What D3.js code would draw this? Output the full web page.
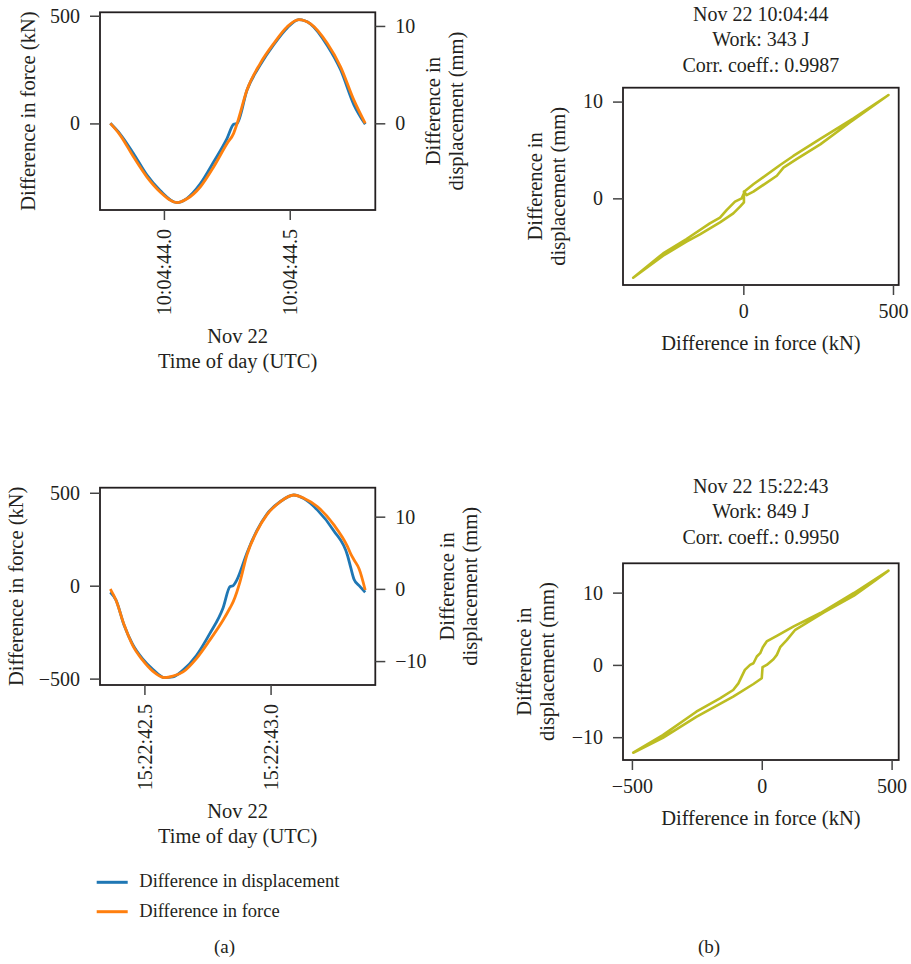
<!DOCTYPE html>
<html>
<head>
<meta charset="utf-8">
<script src="https://cdn.jsdelivr.net/npm/d3@7"></script>
<style>
  body { margin: 0; background: #fff; }
  svg { display: block; }
</style>
</head>
<body>
<div id="chart"></div>
<script>
// ---- data ----

// event 1, Nov 22 10:04, seconds past the minute
const ev1Seconds = [43.787, 43.826, 43.879, 43.932, 43.985, 44.052, 44.092, 44.145, 44.198, 44.251, 44.277,
  44.291, 44.330, 44.383, 44.437, 44.490, 44.536, 44.583, 44.649, 44.702, 44.755, 44.800];
const ev1Force = [0, -54, -155, -248, -318, -368, -350, -294, -201, -93, -46,
  0, 155, 279, 372, 449, 482, 462, 372, 263, 108, 0];
const ev1Disp = [0, -1.1, -3.1, -5.3, -6.9, -8.15, -7.7, -6.2, -3.95, -1.55, -0.1,
  0, 3.4, 6.0, 8.1, 9.8, 10.65, 10.2, 8.0, 5.5, 1.9, -0.1];

// event 2, Nov 22 15:22
const ev2Seconds = [42.365, 42.387, 42.420, 42.453, 42.493, 42.533, 42.580, 42.613, 42.653, 42.706, 42.759,
  42.812, 42.839, 42.852, 42.866, 42.879, 42.906, 42.945, 42.985, 43.039, 43.092, 43.132, 43.185,
  43.251, 43.305, 43.318, 43.331, 43.351, 43.375];
const ev2Force = [-18, -77, -212, -320, -401, -460, -495, -487, -464, -392, -293,
  -185, -120, -86, -35, 22, 165, 291, 381, 453, 488, 471, 426,
  327, 210, 170, 138, 90, -23];
const ev2Disp = [-0.46, -1.52, -5.08, -7.66, -9.70, -11.13, -12.3, -12.2, -11.26, -9.23, -6.2,
  -2.6, 0.3, 0.46, 1.2, 2.3, 4.94, 8.03, 10.34, 12.1, 13.0, 12.5, 10.94,
  8.03, 4.62, 2.9, 1.3, 0.45, -0.46];

// hysteresis loops (force vs displacement)
const loop1Force = [2, 2, -11, -33.5, -78, -145, -190, -268, -368, -268, -190, -112, -78, -56, -28, -5.6,
  5.6, 33.5, 123, 167, 257, 368, 485, 357, 257, 179, 134, 112, 33.5, 11, 2];
const loop1Disp = [0.7, -0.41, -0.86, -1.55, -2.48, -3.72, -4.48, -5.93, -8.2, -5.69, -4.2, -2.59, -2.0, -1.21, -0.34, 0,
  0.76, 1.45, 3.45, 4.38, 6.14, 8.27, 10.68, 7.86, 5.58, 4.07, 3.17, 2.34, 0.69, 0.34, 0.7];

const loop2Force = [3, 0, -32, -110, -252, -381, -495, -381, -252, -161, -110, -90, -65, -45, -32, -19, -6,
  4, 19, 58, 123, 226, 355, 488, 433, 355, 239, 129, 97, 71, 58, 45, 19, 3];
const loop2Disp = [-0.32, -1.85, -2.64, -4.40, -7.18, -10.1, -12.15, -9.72, -6.48, -4.63, -3.47, -2.55, -0.69, 0, 0.23, 1.16, 1.62,
  2.45, 3.24, 4.03, 5.32, 7.18, 9.95, 13.05, 11.57, 9.58, 7.27, 4.86, 3.47, 2.45, 1.39, 0.79, 0, -0.32];

const titles1 = ["Nov 22 10:04:44", "Work: 343 J", "Corr. coeff.: 0.9987"];
const titles2 = ["Nov 22 15:22:43", "Work: 849 J", "Corr. coeff.: 0.9950"];

const forceTicks = [-500, 0, 500];
const dispTicks = [-10, 0, 10];
const legendLabels = ["Difference in displacement", "Difference in force"];
const seriesColors = ["#1f77b4", "#ff7f0e"];
const loopColor = "#bcbd22";

// ---- setup ----
const W = 911, H = 964;
const FONT = "'Liberation Serif', 'Times New Roman', serif";
const INK = "#231f20";

const svg = d3.select("#chart").append("svg")
  .attr("width", W)
  .attr("height", H)
  .attr("font-family", FONT)
  .attr("fill", INK);

const base1 = Date.UTC(2016, 10, 22, 10, 4, 0);
const base2 = Date.UTC(2016, 10, 22, 15, 22, 0);

// R-style axis range: data extent plus 4% each side
function padExtent(vals) {
  const [a, b] = d3.extent(vals);
  const r = (b - a) * 0.04;
  return [a - r, b + r];
}

const fmtNum = d => d < 0 ? "\u2212" + Math.abs(d) : String(d);
const fmtTime = d => d3.utcFormat("%H:%M:%S")(d) + "." + Math.floor(d.getUTCMilliseconds() / 100);

function styleAxis(g, size) {
  g.attr("font-family", FONT).attr("font-size", size);
  g.select(".domain").remove();
  g.selectAll(".tick line").attr("stroke", "#444").attr("stroke-width", 1.5);
  g.selectAll(".tick text").attr("fill", INK);
}

function drawBox(box) {
  svg.append("rect")
    .attr("x", box.x0).attr("y", box.y0)
    .attr("width", box.w).attr("height", box.h)
    .attr("fill", "none")
    .attr("stroke", INK)
    .attr("stroke-width", 1.8);
}

function rotatedLines(lines, xs, cy) {
  lines.forEach((t, i) => {
    svg.append("text")
      .attr("transform", `translate(${xs[i]},${cy}) rotate(-90)`)
      .attr("text-anchor", "middle")
      .attr("dy", "0.35em")
      .attr("font-size", 20.5)
      .text(t);
  });
}

// panel (a): time series, force on the left axis, displacement on the right
function drawSeries(o) {
  const { x0, y0, w, h } = o.box;
  const times = o.seconds.map(s => new Date(o.base + s * 1000));
  const tDom = padExtent(times.map(Number)).map(v => new Date(v));

  const x = d3.scaleUtc().domain(tDom).range([x0, x0 + w]);
  const yF = d3.scaleLinear().domain(padExtent(o.force)).range([y0 + h, y0]);
  const yD = d3.scaleLinear().domain(padExtent(o.disp)).range([y0 + h, y0]);

  const inDom = (s, v) => v >= s.domain()[0] && v <= s.domain()[1];

  // lines: displacement first, force on top
  const lineD = d3.line().x((d, i) => x(times[i])).y(d => yD(d)).curve(d3.curveMonotoneX);
  const lineF = d3.line().x((d, i) => x(times[i])).y(d => yF(d)).curve(d3.curveMonotoneX);

  svg.append("path").datum(o.disp)
    .attr("d", lineD).attr("fill", "none")
    .attr("stroke", seriesColors[0]).attr("stroke-width", 2.8)
    .attr("stroke-linejoin", "round");
  svg.append("path").datum(o.force)
    .attr("d", lineF).attr("fill", "none")
    .attr("stroke", seriesColors[1]).attr("stroke-width", 2.8)
    .attr("stroke-linejoin", "round");

  drawBox(o.box);

  const gL = svg.append("g").attr("transform", `translate(${x0},0)`)
    .call(d3.axisLeft(yF).tickValues(forceTicks.filter(v => inDom(yF, v)))
      .tickSize(10).tickPadding(10).tickFormat(fmtNum));
  styleAxis(gL, 20);

  const gR = svg.append("g").attr("transform", `translate(${x0 + w},0)`)
    .call(d3.axisRight(yD).tickValues(dispTicks.filter(v => inDom(yD, v)))
      .tickSize(10).tickPadding(10).tickFormat(fmtNum));
  styleAxis(gR, 20);

  const gB = svg.append("g").attr("transform", `translate(0,${y0 + h})`)
    .call(d3.axisBottom(x).ticks(d3.utcMillisecond.every(500))
      .tickSize(10).tickFormat(fmtTime));
  styleAxis(gB, 20);
  gB.selectAll(".tick text")
    .attr("transform", "rotate(-90)")
    .attr("x", -19).attr("y", 0)
    .attr("dy", "0.35em")
    .attr("text-anchor", "end");

  const cx = x0 + w / 2, cy = y0 + h / 2;
  rotatedLines(["Difference in force (kN)"], [o.leftLabelX], cy);
  rotatedLines(["Difference in", "displacement (mm)"], o.rightLabelX, cy);

  svg.append("text").attr("x", cx).attr("y", y0 + h + 133)
    .attr("text-anchor", "middle").attr("font-size", 20.5).text("Nov 22");
  svg.append("text").attr("x", cx).attr("y", y0 + h + 157.7)
    .attr("text-anchor", "middle").attr("font-size", 20.5).text("Time of day (UTC)");
}

// panel (b): displacement against force
function drawLoop(o) {
  const { x0, y0, w, h } = o.box;
  const x = d3.scaleLinear().domain(padExtent(o.force)).range([x0, x0 + w]);
  const y = d3.scaleLinear().domain(padExtent(o.disp)).range([y0 + h, y0]);
  const inDom = (s, v) => v >= s.domain()[0] && v <= s.domain()[1];

  const line = d3.line()
    .x((d, i) => x(o.force[i]))
    .y(d => y(d));

  svg.append("path").datum(o.disp)
    .attr("d", line).attr("fill", "none")
    .attr("stroke", loopColor).attr("stroke-width", 2.6)
    .attr("stroke-linejoin", "round").attr("stroke-linecap", "round");

  drawBox(o.box);

  const gL = svg.append("g").attr("transform", `translate(${x0},0)`)
    .call(d3.axisLeft(y).tickValues(dispTicks.filter(v => inDom(y, v)))
      .tickSize(10).tickPadding(10).tickFormat(fmtNum));
  styleAxis(gL, 20);

  const gB = svg.append("g").attr("transform", `translate(0,${y0 + h})`)
    .call(d3.axisBottom(x).tickValues(forceTicks.filter(v => inDom(x, v)))
      .tickSize(10).tickPadding(9).tickFormat(fmtNum));
  styleAxis(gB, 20);

  const cx = x0 + w / 2, cy = y0 + h / 2;
  rotatedLines(["Difference in", "displacement (mm)"], o.yLabelX, cy);

  svg.append("text").attr("x", cx).attr("y", y0 + h + 65)
    .attr("text-anchor", "middle").attr("font-size", 20.5)
    .text("Difference in force (kN)");

  o.titles.forEach((t, i) => {
    svg.append("text").attr("x", cx).attr("y", o.titleY[i])
      .attr("text-anchor", "middle").attr("font-size", 20).text(t);
  });
}

drawSeries({
  box: { x0: 100, y0: 12.3, w: 275.3, h: 197.7 },
  base: base1, seconds: ev1Seconds, force: ev1Force, disp: ev1Disp,
  leftLabelX: 27.5, rightLabelX: [433, 456]
});
drawSeries({
  box: { x0: 100, y0: 487.7, w: 275.3, h: 197.3 },
  base: base2, seconds: ev2Seconds, force: ev2Force, disp: ev2Disp,
  leftLabelX: 16, rightLabelX: [446.5, 469.5]
});
drawLoop({
  box: { x0: 623, y0: 87.7, w: 275.7, h: 197.3 },
  force: loop1Force, disp: loop1Disp, titles: titles1,
  titleY: [20.7, 46, 71.7], yLabelX: [535, 558]
});
drawLoop({
  box: { x0: 623, y0: 563.3, w: 275.7, h: 196.7 },
  force: loop2Force, disp: loop2Disp, titles: titles2,
  titleY: [493.3, 518.3, 544], yLabelX: [524, 547]
});

// legend
const legend = svg.append("g");
legendLabels.forEach((lab, i) => {
  const ly = 882.3 + i * 29.4;
  legend.append("line")
    .attr("x1", 96.7).attr("x2", 127.7)
    .attr("y1", ly).attr("y2", ly)
    .attr("stroke", seriesColors[i]).attr("stroke-width", 3);
  legend.append("text")
    .attr("x", 139.3).attr("y", ly + 5)
    .attr("font-size", 18.5).text(lab);
});

svg.append("text").attr("x", 224.5).attr("y", 953)
  .attr("text-anchor", "middle").attr("font-size", 19).text("(a)");
svg.append("text").attr("x", 709).attr("y", 953)
  .attr("text-anchor", "middle").attr("font-size", 19).text("(b)");
</script>
</body>
</html>
